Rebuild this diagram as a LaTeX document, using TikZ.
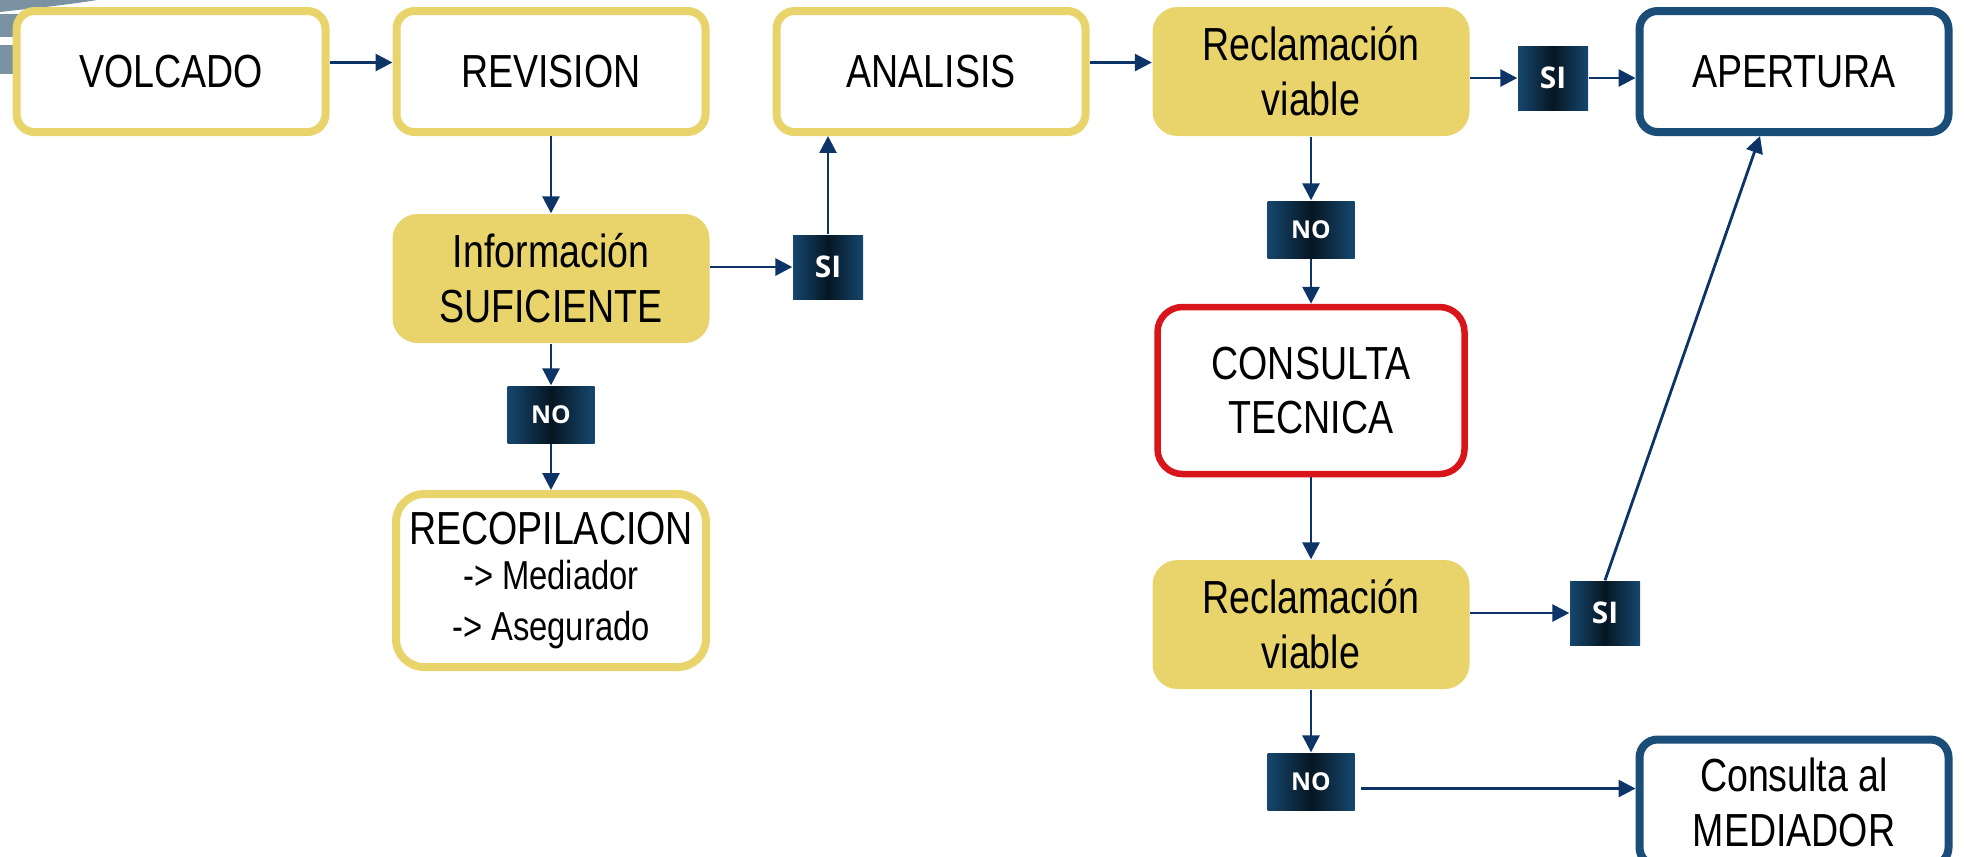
\documentclass[tikz,border=0pt]{standalone}
\usepackage{fontspec}
\setmainfont[FakeStretch=0.81]{Liberation Sans}
\newfontfamily\etiqfont{Open Sans}
\usepackage{tikz}
\usetikzlibrary{arrows.meta, positioning}
\definecolor{oro}{HTML}{E9D46C}
\definecolor{azulborde}{HTML}{1A4D78}
\definecolor{rojoborde}{HTML}{D9141A}
\definecolor{azulflecha}{HTML}{0C3466}
\definecolor{azulclaro}{HTML}{16476F}
\definecolor{azuloscuro}{HTML}{061622}
\definecolor{logogris}{HTML}{7A92A2}
\tikzset{
    paso/.style={rectangle, rounded corners=0.18cm, draw=oro, line width=0.08cm, fill=white, minimum width=3.09cm, minimum height=1.21cm, inner sep=0pt, align=center, font=\fontsize{13.2}{15.6}\selectfont},
    final/.style={paso, draw=azulborde},
    tecnica/.style={paso, draw=rojoborde, line width=0.065cm, rounded corners=0.25cm, minimum width=3.07cm, minimum height=1.67cm},
    recopila/.style={paso, rounded corners=0.28cm, minimum width=3.10cm, minimum height=1.73cm},
    decision/.style={rectangle, rounded corners=0.25cm, fill=oro, minimum width=3.17cm, minimum height=1.29cm, inner sep=0pt, align=center, font=\fontsize{13.2}{15.6}\selectfont},
    etiqno/.style={rectangle, inner sep=0pt, left color=azulclaro, right color=azulclaro, middle color=azuloscuro, text=white, minimum width=0.87cm, minimum height=0.57cm, font=\etiqfont\bfseries\fontsize{7}{8}\selectfont},
    etiqsi/.style={etiqno, minimum width=0.70cm, minimum height=0.64cm, font=\etiqfont\bfseries\fontsize{8.5}{9}\selectfont},
    flecha/.style={draw=azulflecha, line width=0.8pt, -{Triangle[length=4.8pt,width=4.8pt]}},
}
\begin{document}
\begin{tikzpicture}[node distance=3.80cm]
  \useasboundingbox (0,0) rectangle (19.64,-8.56);
  % trozo del logo
  \fill[logogris] (0,0) -- (0.97,0) .. controls (0.6,-0.06) and (0.25,-0.09) .. (0,-0.12) -- cycle;
  \fill[logogris] (0,-0.14) rectangle (0.2,-0.37);
  \fill[logogris] (0,-0.45) rectangle (0.2,-0.74);

  \node[paso]     (volcado) at (1.71,-0.715) {VOLCADO};
  \node[paso]     (revision) [right of=volcado] {REVISION};
  \node[paso]     (analisis) [right of=revision] {ANALISIS};
  \node[decision] (reclamA) [right of=analisis] {Reclamación\\viable};
  \node[final]    (apertura) [right of=reclamA, node distance=4.83cm] {APERTURA};
  \node[etiqsi]   (siA) at (15.53,-0.78) {SI};

  \node[decision] (info) [below of=revision, node distance=2.07cm] {Información\\SUFICIENTE};
  \node[etiqsi]   (siB) at (8.28,-2.67) {SI};
  \node[etiqno]   (noA) [below of=info, node distance=1.36cm] {NO};
  \node[recopila] (recop) [below of=noA, node distance=1.66cm] {RECOPILACION\\[-3pt]\fontsize{11.5}{13.6}\selectfont -> Mediador\\[-1pt]\fontsize{11.5}{13.6}\selectfont -> Asegurado};

  \node[etiqno]   (noB) [below of=reclamA, node distance=1.58cm] {NO};
  \node[tecnica]  (consulta) [below of=noB, node distance=1.61cm] {CONSULTA\\TECNICA};
  \node[decision] (reclamB) [below of=consulta, node distance=2.34cm] {Reclamación\\viable};
  \node[etiqsi]   (siC) at (16.05,-6.13) {SI};
  \node[etiqno]   (noC) [below of=reclamB, node distance=1.57cm] {NO};
  \node[final]    (mediador) [below of=apertura, node distance=7.31cm, minimum height=1.26cm] {Consulta al\\MEDIADOR};

  \draw[flecha] ([yshift=0.9mm]volcado.east) -- ([yshift=0.9mm]revision.west);
  \draw[flecha] ([yshift=0.9mm]analisis.east) -- ([yshift=0.9mm]reclamA.west);
  \draw[flecha] (reclamA.east |- siA) -- (siA);
  \draw[flecha] (siA) -- (siA -| apertura.west);
  \draw[flecha] (revision) -- (info);
  \draw[flecha] (info.east |- siB) -- (siB);
  \draw[flecha] (siB) -- (siB |- analisis.south);
  \draw[flecha] (info) -- (noA);
  \draw[flecha] (noA) -- (recop);
  \draw[flecha] (reclamA) -- (noB);
  \draw[flecha] (noB) -- (consulta);
  \draw[flecha] (consulta) -- (reclamB);
  \draw[flecha] (reclamB.east |- siC) -- (siC);
  \draw[flecha] (siC.north) -- ([xshift=-3.4mm]apertura.south);
  \draw[flecha] (reclamB) -- (noC);
  \draw[flecha, shorten <=0.6mm] ([yshift=-0.7mm]noC.east) -- ([yshift=-0.7mm]noC.east -| mediador.west);
\end{tikzpicture}
\end{document}
